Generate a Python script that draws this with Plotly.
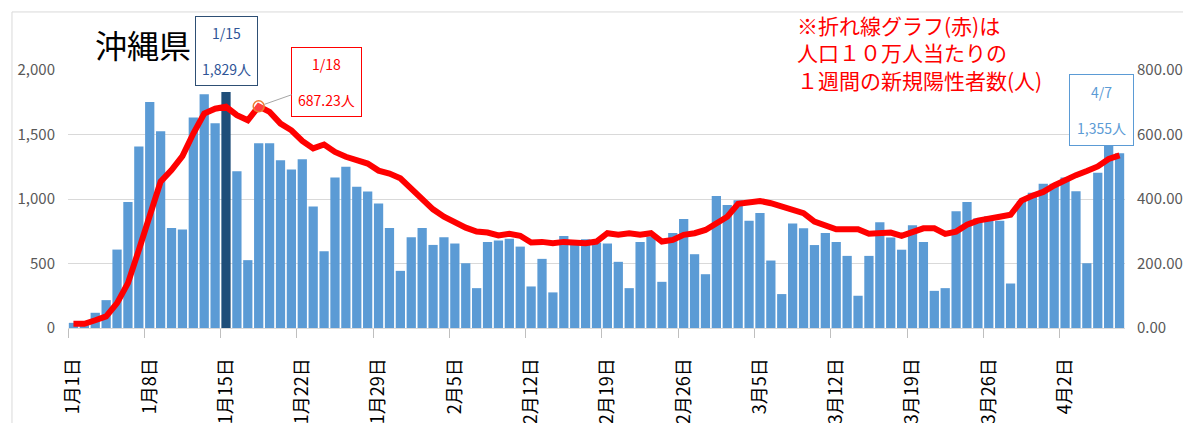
import pandas as pd
import plotly.graph_objects as go

# ---------------- data ----------------
start_date = "2022-01-01"
end_date = "2022-04-07"

# daily new cases (left axis, 人)
cases_jan = [40, 45, 118, 216, 608, 977, 1407, 1752, 1526, 776, 763, 1631, 1812, 1587, 1829,
             1216, 526, 1433, 1433, 1301, 1229, 1309, 941, 595, 1167, 1250, 1095, 1059, 966, 776, 443]
cases_feb = [703, 776, 644, 703, 655, 502, 309, 667, 678, 691, 631, 322, 536, 276, 714,
             650, 688, 660, 655, 513, 309, 667, 709, 358, 737, 845, 572, 417]
cases_mar = [1023, 953, 990, 832, 892, 523, 263, 810, 773, 643, 737, 667, 559, 250, 559,
             820, 701, 607, 796, 667, 288, 309, 905, 977, 850, 866, 832, 345, 985, 1048, 1119]
cases_apr = [1119, 1166, 1060, 502, 1203, 1440, 1355]

# weekly new cases per 100k population (right axis)
rate_jan = [13, 13, 24, 36, 77, 139, 242, 356, 454, 490, 533, 603, 665, 680, 686,
            660, 644, 687.23, 670, 634, 613, 580, 557, 569, 546, 531, 521, 510, 488, 479, 464]
rate_feb = [433, 402, 368, 345, 327, 311, 299, 296, 287, 292, 286, 265, 267, 263, 267,
            263, 263, 268, 294, 289, 294, 289, 294, 268, 273, 289, 294, 304]
rate_mar = [327, 345, 385, 389, 394, 387, 377, 366, 356, 330, 320, 306, 306, 306, 292,
            292, 296, 286, 299, 309, 309, 292, 299, 320, 333, 337, 345, 351, 395, 410, 422]
rate_apr = [442, 460, 474, 487, 501, 524, 535]

tick_labels = ["1月1日", "1月8日", "1月15日", "1月22日", "1月29日", "2月5日", "2月12日",
               "2月19日", "2月26日", "3月5日", "3月12日", "3月19日", "3月26日", "4月2日"]

title_text = "沖縄県"
note_text = "※折れ線グラフ(赤)は<br>人口１０万人当たりの<br>１週間の新規陽性者数(人)"

# ---------------- build ----------------
cases = cases_jan + cases_feb + cases_mar + cases_apr
rate = rate_jan + rate_feb + rate_mar + rate_apr
days = pd.date_range(start_date, end_date, freq="D")
dates = [d.strftime("%Y-%m-%d") for d in days]
tick_vals = dates[::7]

i_peak = dates.index("2022-01-15")
i_rate = dates.index("2022-01-18")
i_last = len(dates) - 1

bar_colors = ["#1F4E79" if i == i_peak else "#5B9BD5" for i in range(len(dates))]

FONT = "Noto Sans CJK JP"

fig = go.Figure()
fig.add_trace(go.Bar(x=dates, y=cases, marker=dict(color=bar_colors, line=dict(width=0)),
                     yaxis="y", name="新規陽性者数"))
fig.add_trace(go.Scatter(x=dates, y=rate, yaxis="y2", mode="lines",
                         line=dict(color="#FF0000", width=6), name="10万人当たり"))
fig.add_trace(go.Scatter(x=[dates[i_rate]], y=[rate[i_rate]], yaxis="y2", mode="markers",
                         marker=dict(size=11, color="rgba(255,255,255,0.25)",
                                     line=dict(color="#ED7D31", width=1.5)),
                         showlegend=False))

day_ms = 86400000
# page body has an 8px margin, so the figure is sized to fit the 1191x423 window
fig.update_layout(
    width=1183, height=415,
    margin=dict(l=60, r=66, t=62, b=95, autoexpand=False),
    paper_bgcolor="white", plot_bgcolor="white",
    showlegend=False, bargap=0.15,
    font=dict(family=FONT, color="#595959"),
    xaxis=dict(
        type="date", automargin=False,
        range=["2021-12-31 12:00", "2022-04-07 12:00"],
        tickmode="array", tickvals=tick_vals, ticktext=tick_labels,
        tickangle=-90, ticks="", ticklabelstandoff=22,
        tickfont=dict(size=18, color="#000000", family=FONT),
        showline=True, linecolor="#D9D9D9", linewidth=1,
        showgrid=False, zeroline=False,
        minor=dict(ticks="outside", tick0="2021-12-31 12:00", dtick=7 * day_ms,
                   ticklen=9, tickcolor="#BFBFBF", tickwidth=1, showgrid=False),
    ),
    yaxis=dict(
        automargin=False,
        range=[0, 2000], tickmode="array", tickvals=[0, 500, 1000, 1500, 2000],
        tickformat=",", showgrid=True, gridcolor="#D9D9D9", gridwidth=1,
        zeroline=False, showline=False, ticks="",
        tickfont=dict(size=15, color="#595959"), ticklabelstandoff=12,
    ),
    yaxis2=dict(
        automargin=False,
        range=[0, 800], overlaying="y", side="right",
        tickmode="array", tickvals=[0, 200, 400, 600, 800],
        tickformat=".2f", showgrid=False, zeroline=False, showline=False, ticks="",
        tickfont=dict(size=15, color="#595959"), ticklabelstandoff=11,
    ),
)

# outer chart frame
fig.add_shape(type="rect", xref="paper", yref="paper",
              x0=-0.053, x1=1.0596, y0=-1.0, y1=1.225,
              line=dict(color="#D9D9D9", width=1), fillcolor="rgba(0,0,0,0)", layer="below")

# title
fig.add_annotation(text=title_text, xref="paper", yref="paper", x=0.024, y=1.10,
                   xanchor="left", yanchor="middle", showarrow=False,
                   font=dict(size=32, color="#000000", family=FONT))

# note
fig.add_annotation(text=note_text, xref="paper", yref="paper", x=0.6875, y=1.24,
                   xanchor="left", yanchor="top", showarrow=False, align="left",
                   font=dict(size=21, color="#FF0000", family=FONT))

# data callouts
fig.add_annotation(x=dates[i_peak], y=cases[i_peak], xref="x", yref="y",
                   text=f"1/15<br><br>{cases[i_peak]:,}人", showarrow=False,
                   yanchor="bottom", yshift=6,
                   bordercolor="#2E4F74", borderwidth=1, borderpad=6, bgcolor="white",
                   font=dict(size=14, color="#2F5597", family=FONT))

fig.add_annotation(x=dates[i_rate], y=rate[i_rate], xref="x", yref="y2",
                   text=f"1/18<br><br>{rate[i_rate]:.2f}人", showarrow=True,
                   arrowhead=0, arrowcolor="#A6A6A6", arrowwidth=1, standoff=6,
                   ax=68, ay=-24,
                   bordercolor="#FF0000", borderwidth=1, borderpad=6, bgcolor="white",
                   font=dict(size=14, color="#FF0000", family=FONT))

fig.add_annotation(x=dates[i_last], y=cases[i_last], xref="x", yref="y",
                   text=f"4/7<br><br>{cases[i_last]:,}人", showarrow=False,
                   yanchor="bottom", yshift=7, xshift=-18,
                   bordercolor="#5B9BD5", borderwidth=1, borderpad=7, bgcolor="white",
                   font=dict(size=14, color="#5B9BD5", family=FONT))

fig.write_html("out.html")
